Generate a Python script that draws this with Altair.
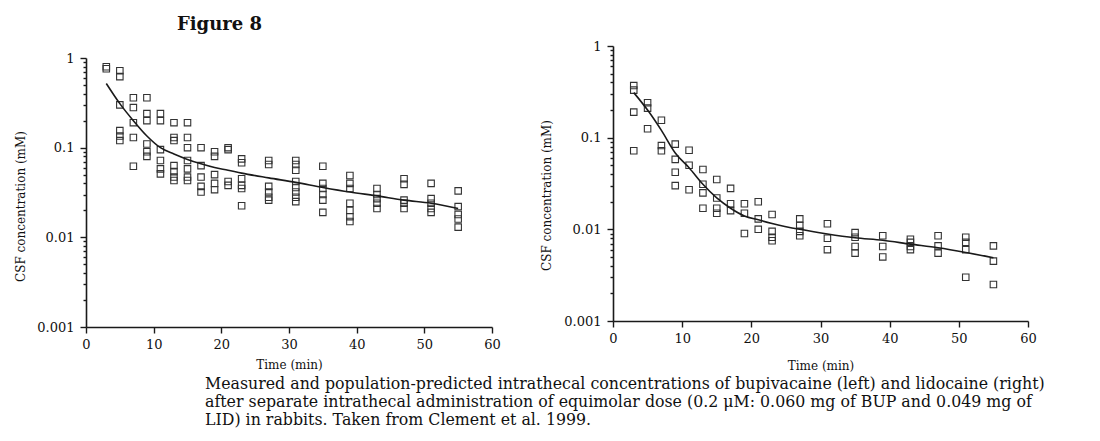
import altair as alt
import pandas as pd

# ---------------- data ----------------
times = [3, 5, 7, 9, 11, 13, 15, 17, 19, 21, 23, 27, 31, 35, 39, 43, 47, 51, 55]

bup_obs = [
    [0.80, 0.76],
    [0.72, 0.62, 0.30, 0.155, 0.135, 0.12],
    [0.36, 0.28, 0.19, 0.13, 0.062],
    [0.36, 0.24, 0.20, 0.11, 0.09, 0.08],
    [0.24, 0.20, 0.095, 0.072, 0.058, 0.051],
    [0.19, 0.13, 0.12, 0.063, 0.054, 0.047, 0.043],
    [0.19, 0.13, 0.10, 0.072, 0.058, 0.047, 0.043],
    [0.10, 0.063, 0.047, 0.037, 0.032],
    [0.09, 0.08, 0.05, 0.04, 0.034],
    [0.10, 0.095, 0.042, 0.038],
    [0.075, 0.068, 0.045, 0.038, 0.035, 0.0225],
    [0.072, 0.065, 0.037, 0.032, 0.028, 0.026],
    [0.072, 0.065, 0.056, 0.042, 0.036, 0.032, 0.028, 0.025],
    [0.062, 0.040, 0.035, 0.030, 0.026, 0.019],
    [0.049, 0.040, 0.035, 0.024, 0.020, 0.017, 0.015],
    [0.035, 0.030, 0.027, 0.024, 0.021],
    [0.045, 0.039, 0.026, 0.024, 0.021],
    [0.040, 0.027, 0.024, 0.021, 0.019],
    [0.033, 0.022, 0.018, 0.016, 0.013],
]
bup_pred = [0.52, 0.31, 0.20, 0.135, 0.10, 0.085, 0.074, 0.066, 0.060, 0.056,
            0.052, 0.046, 0.041, 0.036, 0.032, 0.029, 0.026, 0.024, 0.021]

lid_obs = [
    [0.37, 0.33, 0.19, 0.072],
    [0.24, 0.21, 0.125],
    [0.155, 0.082, 0.072],
    [0.085, 0.058, 0.042, 0.030],
    [0.073, 0.050, 0.027],
    [0.045, 0.031, 0.025, 0.017],
    [0.035, 0.022, 0.017, 0.015],
    [0.028, 0.019, 0.016],
    [0.019, 0.015, 0.009],
    [0.020, 0.013, 0.010],
    [0.0145, 0.0095, 0.0082, 0.0075],
    [0.013, 0.011, 0.0095, 0.0085],
    [0.0115, 0.008, 0.006],
    [0.0092, 0.0082, 0.0065, 0.0055],
    [0.0085, 0.0065, 0.005],
    [0.0078, 0.0072, 0.0065, 0.006],
    [0.0085, 0.0066, 0.0055],
    [0.0082, 0.0072, 0.006, 0.003],
    [0.0066, 0.0045, 0.0025],
]
lid_pred = [0.31, 0.20, 0.12, 0.068, 0.047, 0.031, 0.022, 0.017, 0.014, 0.0127,
            0.0116, 0.010, 0.0089, 0.0081, 0.0076, 0.0069, 0.0063, 0.0056, 0.0049]

y_title = "CSF concentration (mM)"
x_title = "Time (min)"
fig_title = "Figure 8"
caption = [
    "Measured and population-predicted intrathecal concentrations of bupivacaine (left) and lidocaine (right)",
    "after separate intrathecal administration of equimolar dose (0.2 \u03bcM: 0.060 mg of BUP and 0.049 mg of",
    "LID) in rabbits. Taken from Clement et al. 1999.",
]

y_tick_values = [m * 10 ** e for e in (-3, -2, -1) for m in range(1, 10)] + [1]
x_tick_values = list(range(0, 61, 5))

FONT = "DejaVu Serif"
INK = "#1a1a1a"


def obs_frame(obs):
    rows = [(t, c) for t, cs in zip(times, obs) for c in cs]
    return pd.DataFrame(rows, columns=["t", "c"])


def pred_frame(pred):
    return pd.DataFrame({"t": times, "c": pred})


y_major = "abs(log(datum.value)/LN10 - round(log(datum.value)/LN10)) < 0.001"
x_major = "datum.value % 10 == 0"


def panel(obs, pred, yrange, ytitle_x, ytitle_y, xtitle_y):
    xs = alt.Scale(domain=[0, 60], nice=False, zero=False)
    ys = alt.Scale(type="log", domain=[0.001, 1], nice=False, range=yrange)
    xaxis = alt.Axis(
        values=x_tick_values,
        labelExpr=f"{x_major} ? format(datum.value, 'd') : ''",
        tickSize={"condition": {"test": x_major, "value": 6}, "value": 3},
        labelPadding=5,
        labelFlush=False,
        labelOverlap=False,
        title=x_title,
        titleY=xtitle_y,
        titleBaseline="middle",
        titleFontSize=12,
        titleFontWeight="normal",
    )
    yaxis = alt.Axis(
        values=y_tick_values,
        labelExpr=f"{y_major} ? format(datum.value, '~g') : ''",
        tickSize={"condition": {"test": y_major, "value": 6}, "value": 3},
        labelPadding=6,
        labelOverlap=False,
        labelFlush=False,
        title=y_title,
        titleX=ytitle_x,
        titleY=ytitle_y,
        titleAngle=270,
        titleAlign="center",
        titleBaseline="middle",
        titleFontSize=12,
        titleFontWeight="normal",
    )
    pts = alt.Chart(obs_frame(obs)).mark_point(
        shape="square", size=42, filled=False, color="#333333", strokeWidth=1.1, opacity=1
    ).encode(
        x=alt.X("t:Q", scale=xs, axis=xaxis),
        y=alt.Y("c:Q", scale=ys, axis=yaxis),
    )
    line = alt.Chart(pred_frame(pred)).mark_line(
        color=INK, strokeWidth=1.6, interpolate="monotone"
    ).encode(
        x=alt.X("t:Q", scale=xs),
        y=alt.Y("c:Q", scale=ys),
    )
    return pts, line


bup_pts, bup_line = panel(bup_obs, bup_pred, [281, 12], -66, 160, 37)
lid_pts, lid_line = panel(lid_obs, lid_pred, [275, 0], -67, 149, 44)

fig_text = alt.Chart(pd.DataFrame({"s": [fig_title]})).mark_text(
    align="left", baseline="alphabetic", font=FONT, fontSize=18, fontWeight="bold", color="#111111"
).encode(x=alt.value(91), y=alt.value(-16), text="s:N")

cap_text = alt.Chart(pd.DataFrame({"s": [0]})).mark_text(
    align="left", baseline="top", font=FONT, fontSize=15.8, lineHeight=18, color="#111111"
).encode(x=alt.value(119), y=alt.value(331), text=alt.value(caption))

left = alt.layer(bup_pts, bup_line, fig_text, cap_text).properties(width=406, height=281)
right = alt.layer(lid_pts, lid_line).properties(width=415, height=275)

chart = alt.hconcat(left, right, spacing=121, bounds="flush").properties(
    padding={"left": 14, "top": 16, "right": 3, "bottom": 5}
).configure_view(stroke=None).configure_axis(
    domainColor=INK, domainWidth=1.6, tickColor=INK, tickWidth=1.4,
    labelFont=FONT, labelFontSize=13, labelColor="#111111",
    titleFont=FONT, titleColor="#111111", grid=False,
)

chart.save("out.html", embed_options={"renderer": "svg", "actions": False})
